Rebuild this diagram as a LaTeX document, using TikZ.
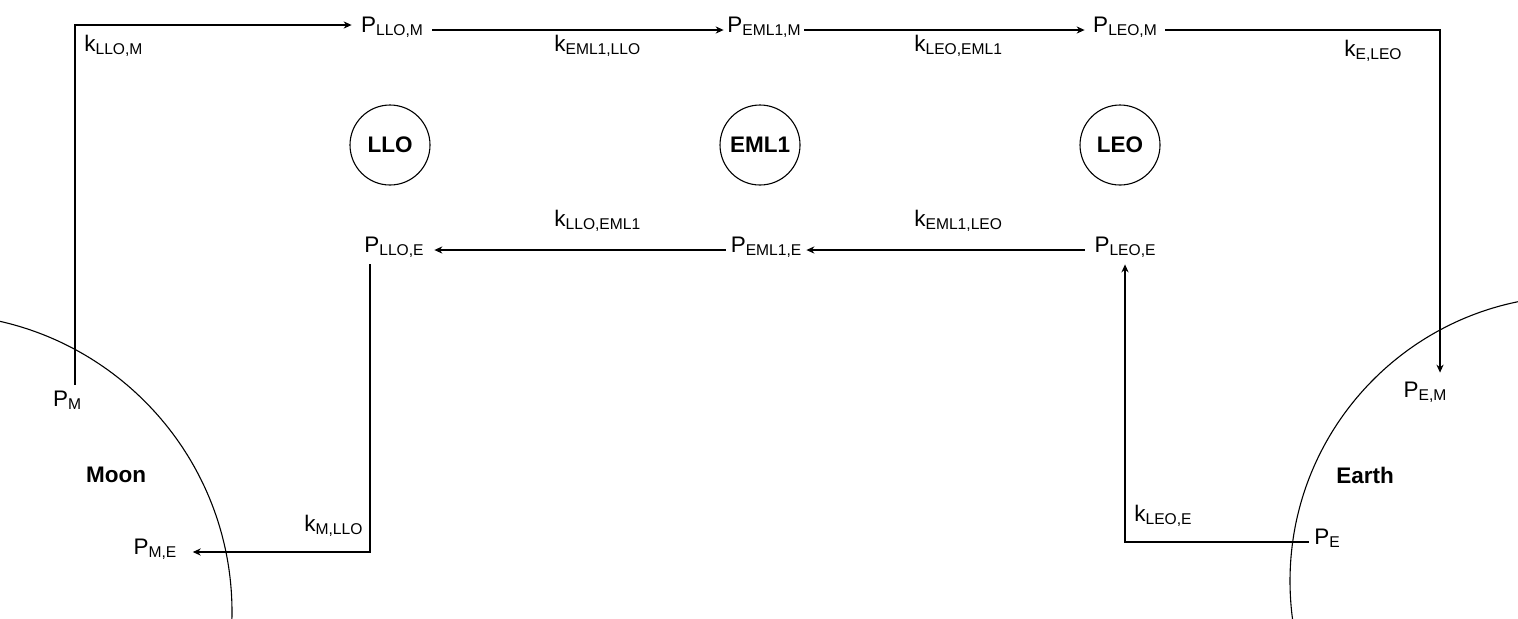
\documentclass[tikz,border=0pt]{standalone}
\usepackage{fontspec}
\setmainfont{Liberation Sans}
\usetikzlibrary{arrows.meta}

\newcommand{\sbs}[1]{\raisebox{-1.7pt}{\fontsize{7.8}{8}\selectfont #1}}

\tikzset{
    % orbits
    orbit/.style={
        circle,
        draw,
        line width=0.55pt,
        minimum size=40pt,
        inner sep=0pt,
        font=\fontsize{11.25}{13}\selectfont\bfseries
    },
    % bodies
    body/.style={
        draw,
        line width=0.55pt
    },
    body-name/.style={
        inner sep=0pt,
        font=\fontsize{11.25}{13}\selectfont\bfseries
    },
    % points
    point/.style={
        inner sep=0pt,
        minimum width=40pt,
        minimum height=14pt,
        text height=7pt,
        text depth=4.6pt,
        font=\fontsize{11.25}{13}\selectfont
    },
    point-ground/.style={
        point,
        minimum width=0pt
    },
    rate/.style={
        inner sep=0pt,
        anchor=west,
        font=\fontsize{11.25}{13}\selectfont
    },
    % arrows
    transfer/.style={
        line width=0.55pt
    }
}

\begin{document}
\begin{tikzpicture}[x=0.5pt, y=-0.5pt, >={Stealth[length=4pt, width=3.6pt]}]

    \useasboundingbox (0,0) rectangle (1518,618);

    % bodies
    \begin{scope}
        \clip (0,0) rectangle (1518,618);
        \draw [body] (-66,612) circle [radius=149pt];
        \draw [body] (1575,581) circle [radius=142.5pt];
    \end{scope}

    \node [body-name] (moon) at (116,475) {Moon};
    \node [body-name] (earth) at (1365,475) {Earth};

    % draw orbits
    \foreach \o/\x in {LLO/390, EML1/760, LEO/1120}
        \node [orbit] (\o) at (\x,145) {\o};

    % draw nodes
    \foreach \o/\x in {LLO/392, EML1/764, LEO/1125}
        \node [point] (p-\o-m) at (\x,30) {P\sbs{\o,M}};
    \foreach \o/\x in {LLO/394, EML1/766, LEO/1125}
        \node [point] (p-\o-e) at (\x,250) {P\sbs{\o,E}};

    \node [point-ground, minimum height=19pt] (p-m) at (67,404) {P\sbs{M}};
    \node [point-ground, inner xsep=8pt] (p-m-e) at (155,552) {P\sbs{M,E}};
    \node [point-ground, minimum height=22pt] (p-e-m) at (1425,395) {P\sbs{E,M}};
    \node [point-ground, inner xsep=2.5pt] (p-e) at (1327,542) {P\sbs{E}};

    % draw edges
    \foreach \a/\b in {LLO/EML1, EML1/LEO}
        \draw [->, transfer] (p-\a-m) -- (p-\b-m);
    \foreach \a/\b in {LEO/EML1, EML1/LLO}
        \draw [->, transfer] (p-\a-e) -- (p-\b-e);

    \draw [->, transfer] ([xshift=4pt]p-m.north) |- ([yshift=2.5pt]p-LLO-m.west);
    \draw [->, transfer] (p-LEO-m) -| ([xshift=7.5pt]p-e-m.north);
    \draw [->, transfer] (p-e) -| (p-LEO-e);
    \draw [->, transfer] ([xshift=-12pt]p-LLO-e.south) |- (p-m-e);

    % rates
    \node [rate] (k-llo-m) at (84,46) {k\sbs{LLO,M}};
    \node [rate] (k-eml1-llo) at (554,46) {k\sbs{EML1,LLO}};
    \node [rate] (k-leo-eml1) at (914,46) {k\sbs{LEO,EML1}};
    \node [rate] (k-e-leo) at (1344,51) {k\sbs{E,LEO}};
    \node [rate] (k-llo-eml1) at (554,221) {k\sbs{LLO,EML1}};
    \node [rate] (k-eml1-leo) at (914,221) {k\sbs{EML1,LEO}};
    \node [rate] (k-m-llo) at (304,526) {k\sbs{M,LLO}};
    \node [rate] (k-leo-e) at (1134,516) {k\sbs{LEO,E}};

\end{tikzpicture}
\end{document}
